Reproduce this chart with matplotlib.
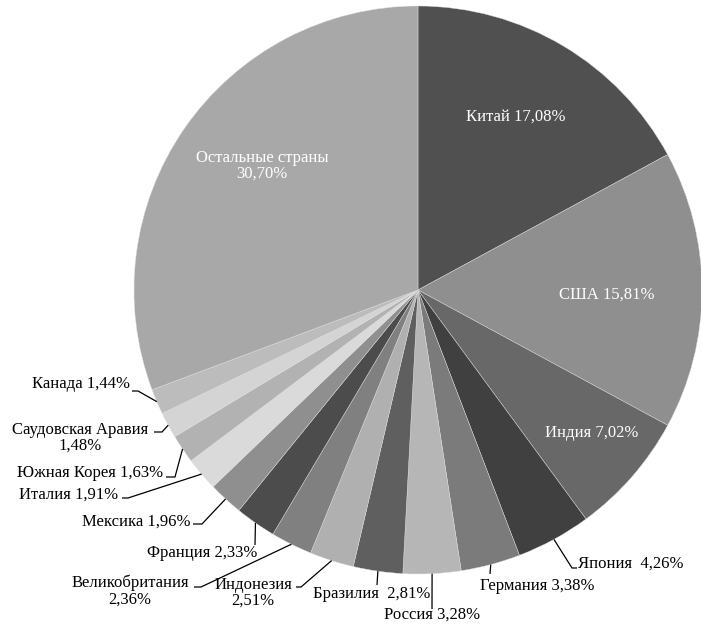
import matplotlib
matplotlib.use("Agg")
import matplotlib.pyplot as plt
import numpy as np

countries = ["Китай", "США", "Индия", "Япония", "Германия", "Россия", "Бразилия",
             "Индонезия", "Великобритания", "Франция", "Мексика", "Италия",
             "Южная Корея", "Саудовская Аравия", "Канада", "Остальные страны"]
shares = [17.08, 15.81, 7.02, 4.26, 3.38, 3.28, 2.81, 2.51, 2.36, 2.33, 1.96, 1.91,
          1.63, 1.48, 1.44, 30.70]
colors = ["#505050", "#8f8f8f", "#686868", "#404040", "#7b7b7b", "#b6b6b6", "#5f5f5f",
          "#b0b0b0", "#808080", "#4c4c4c", "#8f8f8f", "#dadada", "#b2b2b2", "#d4d4d4",
          "#bcbcbc", "#a8a8a8"]

W, H = 701, 627
plt.rcParams['font.family'] = ['Liberation Serif', 'DejaVu Serif']
FS = 12

def fmt(v):
    return f"{v:.2f}".replace(".", ",") + "%"

def P(x, y):
    return (x, H - y)

fig = plt.figure(figsize=(W / 100, H / 100), dpi=100)
ax = fig.add_axes([0, 0, 1, 1])
cx, cy = P(418, 290)
R = 284
wedges, _ = ax.pie(shares, colors=colors, startangle=90, counterclock=False,
                   center=(cx, cy), radius=R,
                   wedgeprops=dict(linewidth=0.3, edgecolor="#dddddd"))
ax.set_xlim(0, W)
ax.set_ylim(0, H)
ax.axis("off")

def edge(i):
    w = wedges[i]
    a = np.deg2rad((w.theta1 + w.theta2) / 2)
    return (cx + R * np.cos(a), cy + R * np.sin(a))

inside = {
    0: (516, 117),
    1: (607, 295),
    2: (592, 433),
}
for i, (x, y) in inside.items():
    ax.text(*P(x, y), f"{countries[i]} {fmt(shares[i])}", ha="center", va="center",
            color="white", fontsize=FS)
ax.text(*P(262, 166), f"{countries[15]}\n{fmt(shares[15])}", ha="center", va="center",
        color="white", fontsize=FS, linespacing=1.0)

outside = {
    3: (f"{countries[3]}  {fmt(shares[3])}", (578, 564), "left", [(572, 568), (577, 568)]),
    4: (f"{countries[4]} {fmt(shares[4])}", (480, 586), "left", [(490, 574)]),
    5: (f"{countries[5]} {fmt(shares[5])}", (432, 615), "center", [(432, 609)]),
    6: (f"{countries[6]}  {fmt(shares[6])}", (313, 594), "left", [(377, 585)]),
    7: (f"{countries[7]}\n{fmt(shares[7])}", (253, 593), "center", [(301, 587), (296, 587)]),
    8: (f"{countries[8]}\n{fmt(shares[8])}", (130, 591), "center", [(201, 587), (194, 587)]),
    9: (f"{countries[9]} {fmt(shares[9])}", (147, 553), "left", [(255, 545)]),
    10: (f"{countries[10]} {fmt(shares[10])}", (190, 522), "right", [(202, 524), (193, 524)]),
    11: (f"{countries[11]} {fmt(shares[11])}", (118, 495), "right", [(128, 498), (122, 498)]),
    12: (f"{countries[12]} {fmt(shares[12])}", (163, 473), "right", [(175, 477), (166, 477)]),
    13: (f"{countries[13]}\n{fmt(shares[13])}", (80, 438), "center", [(162, 432), (154, 432)]),
    14: (f"{countries[14]} {fmt(shares[14])}", (130, 384), "right", [(138, 391), (132, 391)]),
}
for i, (txt, (x, y), ha, path) in outside.items():
    ax.text(*P(x, y), txt, ha=ha, va="center", color="black", fontsize=FS,
            linespacing=1.0)
    pts = [edge(i)] + [P(px, py) for px, py in path]
    xs, ys = zip(*pts)
    ax.plot(xs, ys, color="black", lw=0.9, solid_capstyle="butt")

fig.savefig("out.png", dpi=100)
